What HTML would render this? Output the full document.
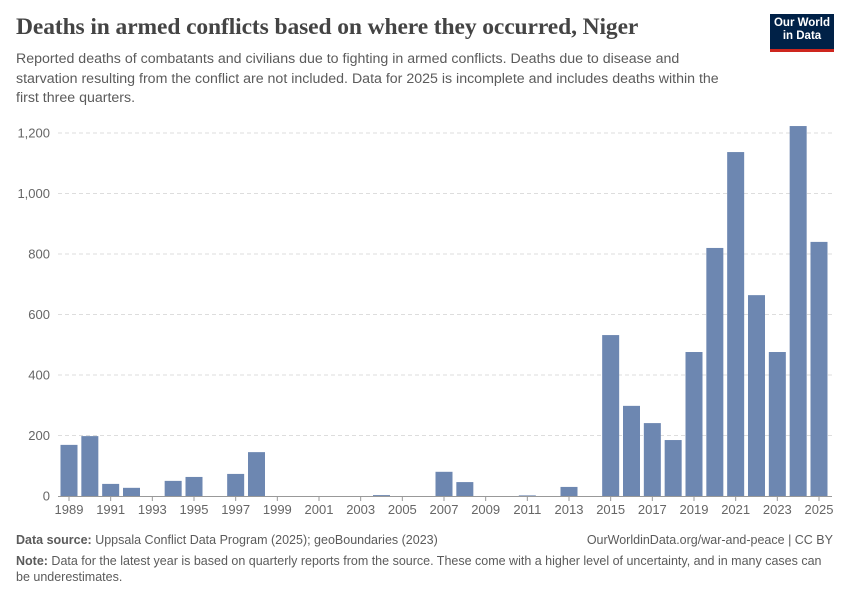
<!DOCTYPE html>
<html><head><meta charset="utf-8"><style>
body{margin:0;background:#fff;font-family:"Liberation Sans",sans-serif;}
#wrap{position:relative;width:850px;height:600px;overflow:hidden;}
.t{position:absolute;margin:0;}
</style></head><body>
<div id="wrap">
<h1 class="t" style="left:16px;top:14px;font-family:'Liberation Serif',serif;font-size:23.5px;font-weight:bold;color:#444;letter-spacing:-0.1px">Deaths in armed conflicts based on where they occurred, Niger</h1>
<p class="t" style="left:16px;top:50px;width:725px;font-size:14.2px;line-height:19.5px;color:#5b5b5b">Reported deaths of combatants and civilians due to fighting in armed conflicts. Deaths due to disease and starvation resulting from the conflict are not included. Data for 2025 is incomplete and includes deaths within the first three quarters.</p>
<div class="t" style="left:770px;top:14px;width:64px;height:38px;background:#002147;border-bottom:3px solid #ce261e;color:#fff;font-size:11.5px;font-weight:bold;line-height:13px;text-align:center;padding-top:3px;box-sizing:border-box">Our World<br>in Data</div>
<svg id="chart" class="t" style="left:0;top:0" width="850" height="600"></svg>
<p class="t" style="left:16px;top:533px;font-size:12.5px;color:#5b5b5b"><b>Data source:</b> Uppsala Conflict Data Program (2025); geoBoundaries (2023)</p>
<p class="t" style="right:17px;top:533px;font-size:12.5px;color:#5b5b5b">OurWorldinData.org/war-and-peace | CC BY</p>
<p class="t" style="left:16px;top:553px;width:810px;font-size:12.5px;line-height:16px;color:#5b5b5b"><b>Note:</b> Data for the latest year is based on quarterly reports from the source. These come with a higher level of uncertainty, and in many cases can be underestimates.</p>
</div>
<script>
const years=[1989,1990,1991,1992,1993,1994,1995,1996,1997,1998,1999,2000,2001,2002,2003,2004,2005,2006,2007,2008,2009,2010,2011,2012,2013,2014,2015,2016,2017,2018,2019,2020,2021,2022,2023,2024,2025];
const deaths=[169,198,40,27,0,50,63,0,73,145,0,0,0,0,0,3,0,0,80,46,0,0,2,0,30,0,532,298,241,185,476,820,1137,664,476,1223,840];
const yTicks=[0,200,400,600,800,1000,1200];
const yTickLabels=["0","200","400","600","800","1,000","1,200"];
const xTickYears=[1989,1991,1993,1995,1997,1999,2001,2003,2005,2007,2009,2011,2013,2015,2017,2019,2021,2023,2025];
const NS="http://www.w3.org/2000/svg";
const svg=document.getElementById('chart');
const y0=496,pxPer=363/1200,x0=69,step=750/36,bw=17;
const y=v=>y0-v*pxPer, x=yr=>x0+(yr-1989)*step;
function mk(t,a){const e=document.createElementNS(NS,t);for(const k in a)e.setAttribute(k,a[k]);svg.appendChild(e);return e;}
yTicks.forEach((v,i)=>{
 if(v>0){const g=mk('line',{x1:58,x2:832,y1:y(v),y2:y(v),stroke:'#ddd','stroke-dasharray':'4,3'});
 
 }
 const t=mk('text',{x:50,y:y(v)+4.5,'text-anchor':'end','font-size':13,fill:'#666','font-family':'Liberation Sans'});
 t.textContent=yTickLabels[i];
 
 
});
years.forEach((yr,i)=>{
 const v=deaths[i];
 const r=mk('rect',{x:x(yr)-bw/2,y:y(v),width:bw,height:v*pxPer,fill:'#6d87b1'});
 
 
});
const ax=mk('line',{x1:58,x2:832,y1:y0+0.5,y2:y0+0.5,stroke:'#999'});


xTickYears.forEach(yr=>{
 const tk=mk('line',{x1:x(yr),x2:x(yr),y1:y0,y2:y0+5,stroke:'#999'});
 
 
 const t=mk('text',{x:x(yr),y:y0+18,'text-anchor':'middle','font-size':13,fill:'#666','font-family':'Liberation Sans'});
 t.textContent=yr;
 
 
});
</script>
</body></html>
